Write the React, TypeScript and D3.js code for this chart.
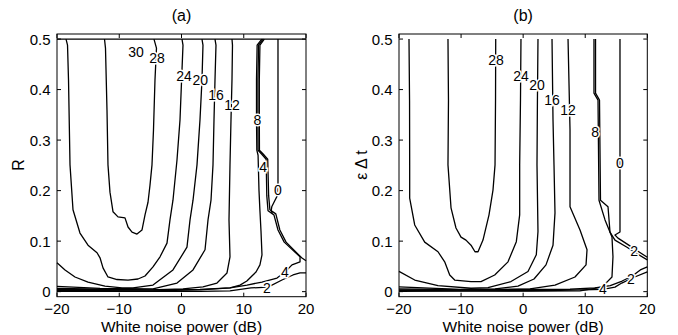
import React from "react";
import * as d3 from "d3";

type Pt = [number, number];

const xTicks = [-20, -10, 0, 10, 20];
const yTicks = [0, 0.1, 0.2, 0.3, 0.4, 0.5];
const xDomain: [number, number] = [-20, 20];
const yDomain: [number, number] = [-0.01, 0.51];

// ---------- panel (a) contours (x: dB, y: R) ----------
const a28: Pt[] = [[-12.37,0.5],[-12.21,0.482],[-11.97,0.36],[-11.81,0.251],[-11.49,0.197],[-11.0,0.158],[-10.2,0.148],[-9.08,0.146],[-8.59,0.128],[-7.95,0.118],[-7.15,0.114],[-6.35,0.122],[-5.86,0.152],[-5.38,0.177],[-5.06,0.211],[-4.74,0.251],[-4.5,0.32],[-4.26,0.419],[-4.02,0.482],[-4.42,0.5]];
const a24: Pt[] = [[-18.55,0.5],[-18.31,0.488],[-18.15,0.419],[-17.91,0.251],[-17.43,0.162],[-16.31,0.116],[-15.02,0.092],[-13.57,0.077],[-13.09,0.067],[-12.61,0.047],[-11.81,0.029],[-10.36,0.024],[-8.59,0.023],[-6.99,0.025],[-5.86,0.031],[-4.58,0.049],[-3.45,0.069],[-2.33,0.096],[-1.85,0.142],[-1.37,0.181],[-0.72,0.261],[-0.24,0.34],[0.08,0.439],[0.24,0.488],[0.08,0.5]];
const a20: Pt[] = [[-20,0.057],[-18.71,0.043],[-17.11,0.029],[-15.02,0.019],[-12.29,0.011],[-9.56,0.0073],[-7.79,0.0073],[-4.58,0.013],[-1.37,0.043],[0.88,0.088],[1.37,0.142],[1.85,0.181],[2.49,0.251],[2.97,0.34],[3.29,0.419],[3.45,0.488],[3.29,0.5]];
const a16: Pt[] = [[-20,0.0103],[-13.09,0.0063],[-4.58,0.0053],[-0.72,0.017],[1.85,0.043],[3.78,0.083],[4.26,0.142],[4.74,0.181],[5.06,0.251],[5.22,0.34],[5.38,0.419],[5.54,0.488],[5.38,0.5]];
const a12: Pt[] = [[-20,0.0063],[-5.06,0.0034],[0.24,0.0053],[3.45,0.0093],[5.7,0.017],[7.31,0.037],[7.79,0.069],[7.63,0.142],[7.79,0.251],[7.95,0.34],[8.11,0.419],[8.19,0.488],[8.11,0.5]];
const a8: Pt[] = [[-20,0.0044],[-5.06,0.0034],[2.97,0.0044],[7.79,0.0073],[9.4,0.013],[10.5,0.021],[11.97,0.039],[12.6,0.053],[12.93,0.073],[12.77,0.12],[12.6,0.16],[12.45,0.2],[12.3,0.27],[12.1,0.28],[12.05,0.34],[12.05,0.42],[12.15,0.488],[12.9,0.5]];
const a4: Pt[] = [[-20,0.0024],[-5.06,0.0014],[2.97,0.0034],[7.79,0.0073],[10.52,0.013],[12.93,0.019],[15.34,0.027],[16.63,0.039],[17.75,0.053],[19.04,0.059],[19.04,0.069],[16.5,0.098],[15.5,0.122],[14.85,0.152],[13.9,0.16],[13.7,0.19],[13.6,0.262],[12.9,0.272],[12.3,0.28],[12.28,0.34],[12.28,0.42],[12.38,0.488],[13.1,0.5]];
const a2top: Pt[] = [[13.3,0.5],[12.6,0.488],[12.5,0.42],[12.5,0.34],[12.52,0.28],[13.15,0.272],[13.85,0.262],[14.0,0.19],[14.2,0.162],[15.15,0.154],[15.8,0.122],[16.8,0.098],[19.3,0.067],[20,0.061]];
const a2low: Pt[] = [[20,0.037],[19.04,0.037],[17.91,0.033],[16.14,0.023],[13.9,0.009],[11.16,0.0073],[7.79,0.0014],[2.97,0.0004],[-20,0.0004]];
const a0: Pt[] = [[15.5,0.5],[15.5,0.215],[15.4,0.19],[14.9,0.178],[14.5,0.168],[14.4,0.16],[14.6,0.155]];
const aTopEdge: Pt[] = [[-20,0.5],[20,0.5]];

const contoursA: Pt[][] = [aTopEdge, a28, a24, a20, a16, a12, a8, a4, a2top, a2low, a0];
const labelsA: { t: string; x: number; y: number }[] = [
  { t: "30", x: -7.31, y: 0.474 },
  { t: "28", x: -3.94, y: 0.462 },
  { t: "24", x: 0.4, y: 0.427 },
  { t: "20", x: 3.0, y: 0.419 },
  { t: "16", x: 5.54, y: 0.389 },
  { t: "12", x: 8.1, y: 0.369 },
  { t: "8", x: 12.2, y: 0.34 },
  { t: "4", x: 13.1, y: 0.247 },
  { t: "0", x: 15.5, y: 0.201 },
  { t: "4", x: 16.63, y: 0.039 },
  { t: "2", x: 13.73, y: 0.008 },
];

// ---------- panel (b) contours (x: dB, y: eps*dt) ----------
const b28: Pt[] = [[-12.11,0.5],[-12.03,0.379],[-12.11,0.251],[-11.62,0.166],[-10.82,0.126],[-10.01,0.108],[-9.21,0.102],[-8.4,0.092],[-7.76,0.079],[-7.27,0.079],[-6.47,0.102],[-5.5,0.152],[-4.86,0.201],[-4.53,0.251],[-4.45,0.379],[-4.42,0.5]];
const b24: Pt[] = [[-18.39,0.5],[-18.3,0.379],[-18.28,0.251],[-18.28,0.185],[-17.47,0.132],[-15.86,0.098],[-13.72,0.079],[-12.64,0.059],[-11.83,0.033],[-11.03,0.023],[-8.4,0.02],[-6.79,0.02],[-4.58,0.033],[-2.44,0.059],[-1.1,0.099],[-0.56,0.152],[-0.56,0.251],[-0.43,0.379],[-0.35,0.5]];
const b20: Pt[] = [[-20,0.04],[-17.47,0.023],[-13.72,0.012],[-8.4,0.0067],[-5.66,0.0079],[-1.96,0.02],[0.78,0.04],[2.12,0.073],[2.39,0.119],[2.23,0.251],[2.3,0.379],[2.39,0.5]];
const b16: Pt[] = [[-20,0.0093],[-10.17,0.0044],[-4.53,0.0053],[-0.83,0.011],[1.75,0.025],[3.68,0.053],[4.81,0.092],[5.13,0.156],[4.97,0.251],[4.81,0.34],[4.65,0.5]];
const b12: Pt[] = [[-20,0.0053],[-6.95,0.0034],[1.1,0.0053],[5.13,0.013],[8.35,0.029],[10.13,0.053],[10.29,0.083],[9.16,0.122],[7.55,0.168],[7.55,0.32],[7.23,0.5]];
const b8: Pt[] = [[11.41,0.5],[11.41,0.393],[12.06,0.379],[12.22,0.181],[13.19,0.142],[14.31,0.108],[14.47,0.069],[14.31,0.029],[12.7,0.009],[9.16,0.0014],[1.1,0.001],[-20,0.0024]];
const b4top: Pt[] = [[11.66,0.5],[11.66,0.393],[12.3,0.379],[12.46,0.181],[13.67,0.168],[13.99,0.118],[14.79,0.102],[16.73,0.088],[18.34,0.075],[20,0.063]];
const b4low: Pt[] = [[20,0.039],[17.97,0.029],[15.88,0.017],[14.79,0.009],[12.86,0.0044],[5.94,0.0024],[-20,0.0004]];
const b2low: Pt[] = [[20,0.049],[18.87,0.043],[17.58,0.031],[15.95,0.021],[14.03,0.012],[11.57,0.0073],[7.55,0.0047],[-20,0.0034]];
const b0: Pt[] = [[15.6,0.5],[15.6,0.118],[14.79,0.112],[15.28,0.106],[16.89,0.093],[18.5,0.08],[20,0.068]];

const contoursB: Pt[][] = [b28, b24, b20, b16, b12, b8, b4top, b4low, b2low, b0];
const labelsB: { t: string; x: number; y: number }[] = [
  { t: "28", x: -4.37, y: 0.458 },
  { t: "24", x: -0.35, y: 0.427 },
  { t: "20", x: 2.23, y: 0.409 },
  { t: "16", x: 4.65, y: 0.379 },
  { t: "12", x: 7.23, y: 0.359 },
  { t: "8", x: 11.6, y: 0.316 },
  { t: "0", x: 15.6, y: 0.255 },
  { t: "2", x: 17.9, y: 0.081 },
  { t: "2", x: 17.37, y: 0.026 },
  { t: "4", x: 12.86, y: 0.006 },
];

const FONT = "'Liberation Sans', Arial, Helvetica, sans-serif";

type PanelProps = {
  x0: number;
  x1: number;
  title: string;
  ylabel: string;
  ylabelX: number;
  contours: Pt[][];
  labels: { t: string; x: number; y: number }[];
};

function Panel({ x0, x1, title, ylabel, ylabelX, contours, labels }: PanelProps) {
  const top = 34;
  const bottom = 296.7;
  const x = d3.scaleLinear().domain(xDomain).range([x0, x1]);
  const y = d3.scaleLinear().domain(yDomain).range([bottom, top]);
  const line = d3
    .line<Pt>()
    .x((d) => x(d[0]))
    .y((d) => y(d[1]));
  const tl = 4;
  const fmtX = (v: number) => (v < 0 ? "\u2212" + Math.abs(v) : String(v));
  const cx = (x0 + x1) / 2;
  return (
    <g>
      {contours.map((c, i) => (
        <path key={i} d={line(c) || ""} fill="none" stroke="#000" strokeWidth={1.3} strokeLinejoin="round" />
      ))}
      {labels.map((l, i) => (
        <text
          key={i}
          x={x(l.x)}
          y={y(l.y)}
          fontFamily={FONT}
          fontSize={14}
          textAnchor="middle"
          dominantBaseline="central"
          stroke="#fff"
          strokeWidth={3}
          paintOrder="stroke"
          fill="#000"
        >
          {l.t}
        </text>
      ))}
      <rect x={x0} y={top} width={x1 - x0} height={bottom - top} fill="none" stroke="#000" strokeWidth={1} />
      {xTicks.map((t) => (
        <g key={"xt" + t}>
          <line x1={x(t)} x2={x(t)} y1={bottom} y2={bottom - tl} stroke="#000" />
          <line x1={x(t)} x2={x(t)} y1={top} y2={top + tl} stroke="#000" />
          <text x={x(t)} y={314} fontFamily={FONT} fontSize={15} textAnchor="middle">
            {fmtX(t)}
          </text>
        </g>
      ))}
      {yTicks.map((t) => (
        <g key={"yt" + t}>
          <line x1={x0} x2={x0 + tl} y1={y(t)} y2={y(t)} stroke="#000" />
          <line x1={x1} x2={x1 - tl} y1={y(t)} y2={y(t)} stroke="#000" />
          <text x={x0 - 6.5} y={y(t)} fontFamily={FONT} fontSize={15} textAnchor="end" dominantBaseline="central">
            {String(t)}
          </text>
        </g>
      ))}
      <text x={cx} y={21} fontFamily={FONT} fontSize={16} textAnchor="middle">
        {title}
      </text>
      <text x={cx} y={331.5} fontFamily={FONT} fontSize={15.5} textAnchor="middle">
        White noise power (dB)
      </text>
      <text
        transform={`translate(${ylabelX},165) rotate(-90)`}
        fontFamily={FONT}
        fontSize={16}
        textAnchor="middle"
      >
        {ylabel}
      </text>
    </g>
  );
}

export default function App() {
  return (
    <svg
      width={678}
      height={335}
      style={{ position: "absolute", left: 0, top: 0, background: "#fff" }}
    >
      <rect width={678} height={335} fill="#fff" />
      <Panel x0={57} x1={306} title="(a)" ylabel="R" ylabelX={23.5} contours={contoursA} labels={labelsA} />
      <Panel x0={399} x1={647.3} title="(b)" ylabel={"\u03B5 \u0394 t"} ylabelX={366.5} contours={contoursB} labels={labelsB} />
    </svg>
  );
}
